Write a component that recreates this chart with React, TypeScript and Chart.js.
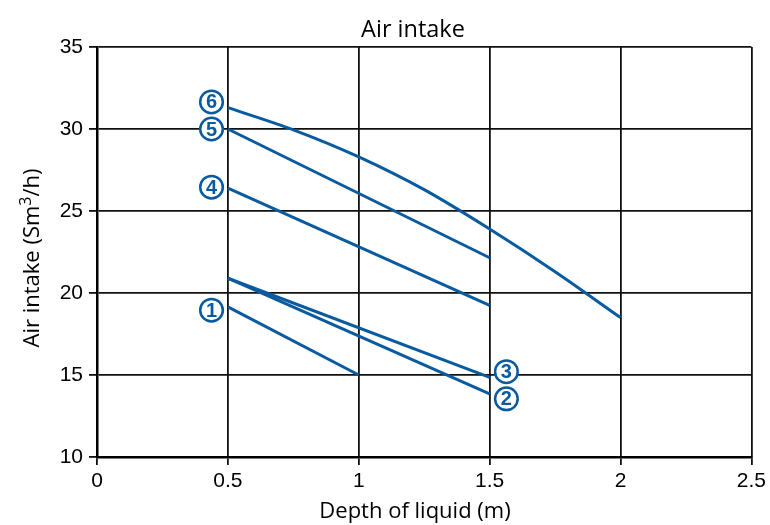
import React, { useEffect, useRef } from "react";
import { Chart, registerables } from "chart.js";

Chart.register(...registerables);

const CHART_TITLE = "Air intake";
const X_TITLE = "Depth of liquid (m)";
const Y_TITLE_PARTS = ["Air intake (Sm", "3", "/h)"];

const X_MIN = 0;
const X_MAX = 2.5;
const X_STEP = 0.5;
const Y_MIN = 10;
const Y_MAX = 35;
const Y_STEP = 5;

const series1X = [0.5, 1.0];
const series1Y = [19.15, 15.0];
const series2X = [0.5, 1.5];
const series2Y = [20.9, 13.85];
const series3X = [0.5, 1.5];
const series3Y = [20.9, 14.85];
const series4X = [0.5, 1.5];
const series4Y = [26.4, 19.25];
const series5X = [0.5, 1.5];
const series5Y = [30.0, 22.15];
const series6X = [0.5, 0.75, 1.0, 1.25, 1.5, 1.75, 2.0];
const series6Y = [31.3, 29.95, 28.3, 26.3, 23.9, 21.3, 18.5];

const labelTexts = ["1", "2", "3", "4", "5", "6"];
const labelX = [0.4375, 1.564, 1.564, 0.4375, 0.4375, 0.4375];
const labelY = [18.95, 13.55, 15.2, 26.45, 30.0, 31.65];

const BLUE = "#0a5aa0";
const TEXT_FONT = "'Open Sans'";

function pts(xs: number[], ys: number[]) {
  return xs.map((x, i) => ({ x, y: ys[i] }));
}

const textPlugin = {
  id: "textPlugin",
  afterDraw(chart: any) {
    const ctx = chart.ctx as CanvasRenderingContext2D;
    const xs = chart.scales.x;
    const ys = chart.scales.y;
    ctx.save();
    ctx.fillStyle = "#000";
    ctx.textAlign = "center";
    ctx.textBaseline = "alphabetic";
    ctx.font = `23.5px ${TEXT_FONT}`;
    ctx.fillText(CHART_TITLE, 413, 37);
    ctx.font = `22px ${TEXT_FONT}`;
    ctx.fillText(X_TITLE, 415, 518);

    // y title with superscript
    ctx.save();
    ctx.translate(39, 258);
    ctx.rotate(-Math.PI / 2);
    ctx.textAlign = "left";
    const bigFont = `22px ${TEXT_FONT}`;
    const supFont = `16px ${TEXT_FONT}`;
    ctx.font = bigFont;
    const w0 = ctx.measureText(Y_TITLE_PARTS[0]).width;
    const w2 = ctx.measureText(Y_TITLE_PARTS[2]).width;
    ctx.font = supFont;
    const w1 = ctx.measureText(Y_TITLE_PARTS[1]).width;
    const total = w0 + w1 + w2;
    let cx = -total / 2;
    ctx.font = bigFont;
    ctx.fillText(Y_TITLE_PARTS[0], cx, 0);
    cx += w0;
    ctx.font = supFont;
    ctx.fillText(Y_TITLE_PARTS[1], cx, -8);
    cx += w1;
    ctx.font = bigFont;
    ctx.fillText(Y_TITLE_PARTS[2], cx, 0);
    ctx.restore();

    ctx.textBaseline = "middle";
    for (let i = 0; i < labelTexts.length; i++) {
      const px = xs.getPixelForValue(labelX[i]);
      const py = ys.getPixelForValue(labelY[i]);
      ctx.beginPath();
      ctx.arc(px, py, 11.3, 0, Math.PI * 2);
      ctx.fillStyle = "#fff";
      ctx.fill();
      ctx.lineWidth = 2.5;
      ctx.strokeStyle = BLUE;
      ctx.stroke();
      ctx.fillStyle = BLUE;
      ctx.font = "bold 20px 'Liberation Sans'";
      ctx.fillText(labelTexts[i], px, py + 1);
    }
    ctx.restore();
  },
};

export default function App() {
  const ref = useRef<HTMLCanvasElement>(null);
  useEffect(() => {
    if (!ref.current) return;
    const mk = (xs: number[], ys: number[], curved = false) => ({
      data: pts(xs, ys),
      borderColor: BLUE,
      backgroundColor: BLUE,
      borderWidth: 3,
      pointRadius: 0,
      fill: false,
      cubicInterpolationMode: curved ? ("monotone" as const) : ("default" as const),
      tension: 0,
    });
    const tickFont = { family: "'Liberation Sans'", size: 21 };
    const chart = new Chart(ref.current, {
      type: "line",
      data: {
        datasets: [
          mk(series1X, series1Y),
          mk(series2X, series2Y),
          mk(series3X, series3Y),
          mk(series4X, series4Y),
          mk(series5X, series5Y),
          mk(series6X, series6Y, true),
        ],
      },
      options: {
        animation: false,
        responsive: false,
        layout: { padding: { top: 47, right: 16, left: 0, bottom: 0 } },
        plugins: {
          legend: { display: false },
          title: { display: false },
          tooltip: { enabled: false },
        },
        scales: {
          x: {
            type: "linear",
            min: X_MIN,
            max: X_MAX,
            ticks: {
              stepSize: X_STEP,
              color: "#000",
              font: tickFont,
              padding: 4,
              callback: (v: any) => String(Number(v)),
            },
            grid: { color: "#111", lineWidth: 1.8, tickLength: 8, tickColor: "#111", tickWidth: 1.8 },
            border: { display: true, color: "#000", width: 2.5 },
            afterFit: (s: any) => {
              s.height = 68;
            },
          },
          y: {
            type: "linear",
            min: Y_MIN,
            max: Y_MAX,
            ticks: {
              stepSize: Y_STEP,
              color: "#000",
              font: tickFont,
              padding: 6,
            },
            grid: { color: "#111", lineWidth: 1.8, tickLength: 8, tickColor: "#111", tickWidth: 1.8 },
            border: { display: true, color: "#000", width: 2.5 },
            afterFit: (s: any) => {
              s.width = 97;
            },
          },
        },
      },
      plugins: [textPlugin],
    });
    return () => chart.destroy();
  }, []);
  return (
    <canvas
      ref={ref}
      width={770}
      height={525}
      style={{ position: "absolute", left: 0, top: 0, width: 770, height: 525 }}
    />
  );
}
